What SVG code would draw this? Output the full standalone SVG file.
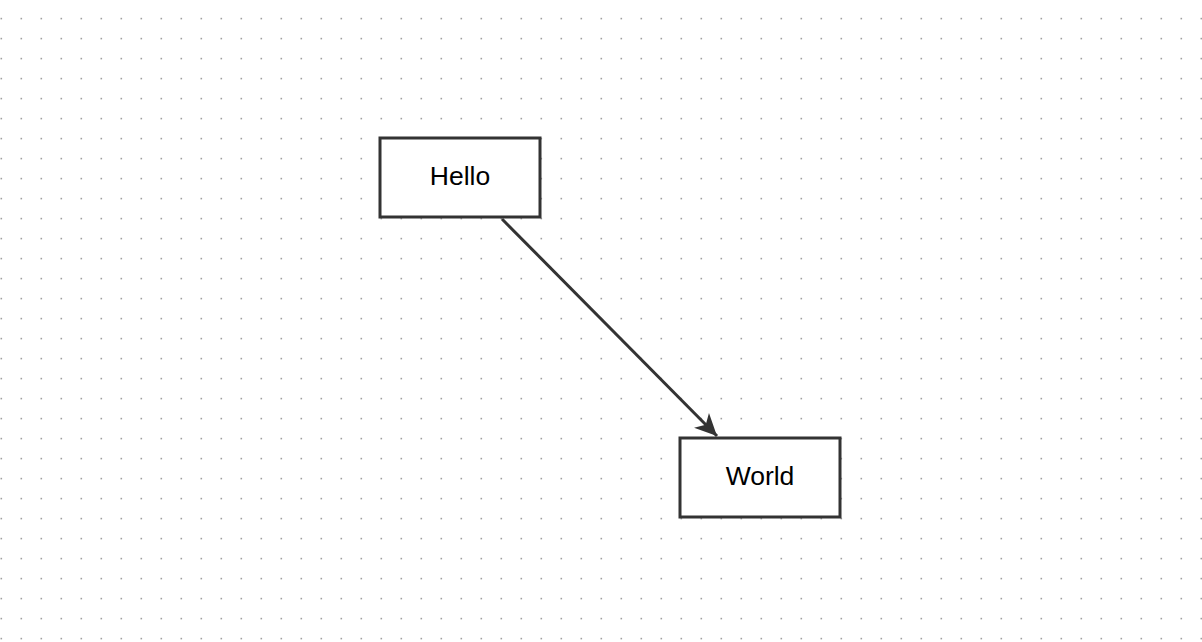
<svg xmlns="http://www.w3.org/2000/svg" width="1202" height="642" viewBox="0 0 1202 642">
  <defs>
    <pattern id="dots" x="0" y="0" width="20" height="20" patternUnits="userSpaceOnUse">
      <rect x="0.5" y="17.8" width="1.6" height="1.6" fill="#a0a0a0"/>
    </pattern>
    <marker id="arrow" viewBox="-23 -12 25 24" refX="0" refY="0" markerWidth="25" markerHeight="24" markerUnits="userSpaceOnUse" orient="auto">
      <path d="M0,0 L-22,-10.5 L-16,0 L-22,10.5 Z" fill="#333333"/>
    </marker>
    <style>
      .node rect { fill: #ffffff; stroke: #333333; stroke-width: 3; }
      .node text { font-family: "Liberation Sans", Arial, sans-serif; font-size: 26.5px; fill: #000000; text-anchor: middle; }
      .edge { stroke: #333333; stroke-width: 3; fill: none; }
    </style>
  </defs>
  <rect x="0" y="0" width="1202" height="642" fill="#ffffff"/>
  <rect x="0" y="0" width="1202" height="642" fill="url(#dots)"/>
  <g id="connectors">
    <line class="edge" x1="502" y1="219" x2="717" y2="436" marker-end="url(#arrow)"/>
  </g>
  <g id="node-hello" class="node">
    <rect x="380" y="138" width="160" height="79"/>
    <text x="460" y="185">Hello</text>
  </g>
  <g id="node-world" class="node">
    <rect x="680" y="438" width="160" height="79"/>
    <text x="760" y="485">World</text>
  </g>
</svg>
